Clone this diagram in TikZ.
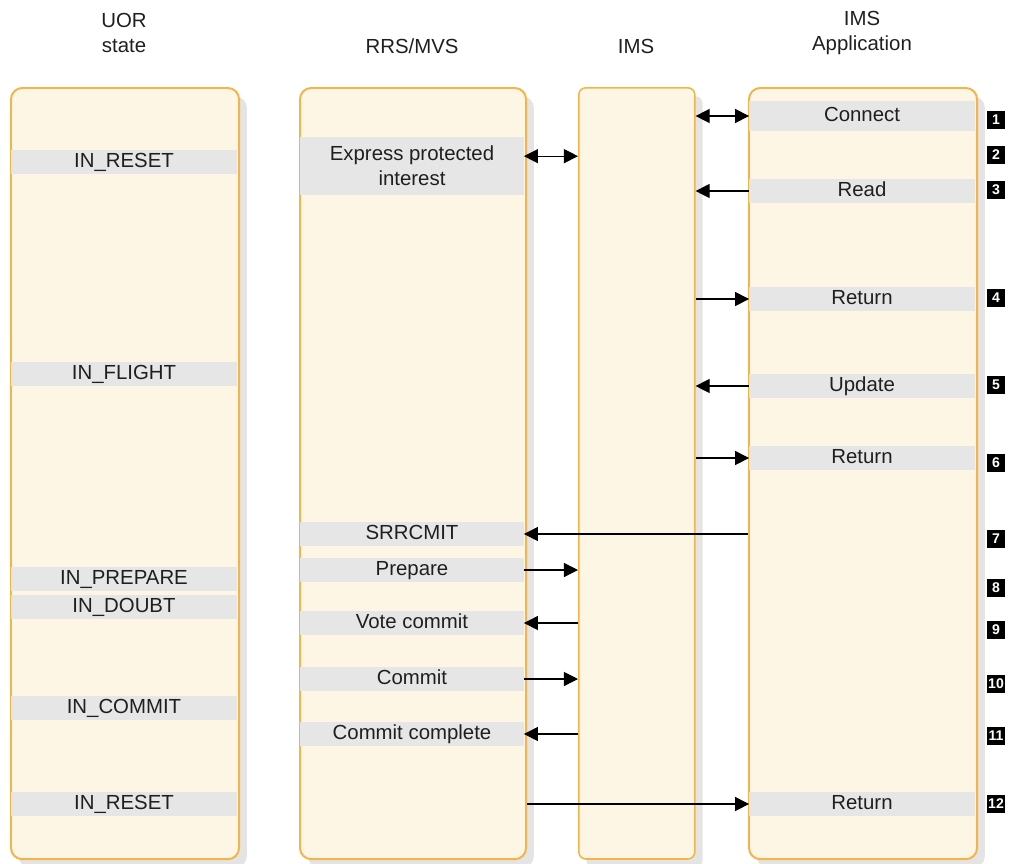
\documentclass[tikz,border=0pt]{standalone}
\usepackage{fontspec}
\setmainfont{Liberation Sans}
\usetikzlibrary{arrows.meta,positioning,shadows}
\definecolor{laneline}{HTML}{F4B44A}
\definecolor{lanefill}{HTML}{FDF6E4}
\definecolor{bandgray}{HTML}{E6E6E6}
\definecolor{shade}{HTML}{E4E4E4}
\tikzset{
  lane/.style={draw=laneline, fill=lanefill, line width=1.4pt, rounded corners=8pt,
    anchor=north west, inner sep=0pt, minimum height=19.275cm,
    drop shadow={shadow xshift=5.5pt, shadow yshift=-6pt, fill=shade, opacity=1}},
  bandbase/.style={fill=bandgray, inner sep=0pt, align=center},
  band/.style={bandbase, minimum height=0.6cm, text height=10.5pt, text depth=3pt},
  head/.style={align=center},
  badge/.style={fill=black, text=white, font=\bfseries\fontsize{10}{10}\selectfont,
    minimum size=12.5pt, inner sep=0.4pt},
  msg/.style={line width=0.8pt, -{Triangle[length=10pt,width=10pt]}},
  msgs/.style={line width=0.8pt, {Triangle[length=10pt,width=10pt]}-{Triangle[length=10pt,width=10pt]}}
}
\begin{document}
\begin{tikzpicture}[x=0.025cm,y=-0.025cm,font=\fontsize{14.5}{17.5}\selectfont,text=black!88]
\useasboundingbox (0,0) rectangle (1010,863);

% column headings
\node[head] (huor) at (124,33) {UOR\\state};
\node[head] (hrrs) at (412,46) {RRS/MVS};
\node[head] (hims) at (636,46) {IMS};
\node[head] (happ) at (862,33) {IMS\\Application};

% lanes
\node[lane, minimum width=5.7cm] (uor) at (10,87) {};
\node[lane, minimum width=5.65cm] (rrs) at (299,87) {};
\node[lane, minimum width=2.9cm, rounded corners=5pt, line width=1.1pt] (ims) at (578,87) {};
\node[lane, minimum width=5.7cm] (app) at (748,87) {};

% UOR states
\node[band, minimum width=5.63cm] (reset1) at (124,162) {IN\_RESET};
\node[band, minimum width=5.63cm] (flight) at (124,374) {IN\_FLIGHT};
\node[band, minimum width=5.63cm] (inprep) at (124,579) {IN\_PREPARE};
\node[band, minimum width=5.63cm] (doubt) at (124,607) {IN\_DOUBT};
\node[band, minimum width=5.63cm] (incommit) at (124,708) {IN\_COMMIT};
\node[band, minimum width=5.63cm] (reset2) at (124,804) {IN\_RESET};

% RRS/MVS
\node[bandbase, minimum width=5.58cm, minimum height=1.45cm] (express) at (412,166) {Express protected\\interest};
\node[band, minimum width=5.58cm] (srrcmit) at (412,534) {SRRCMIT};
\node[band, minimum width=5.58cm] (prep) at (412,570) {Prepare};
\node[band, minimum width=5.58cm] (vote) at (412,623) {Vote commit};
\node[band, minimum width=5.58cm] (commit) at (412,679) {Commit};
\node[band, minimum width=5.58cm] (complete) at (412,734) {Commit complete};

% IMS application
\node[band, minimum width=5.63cm, minimum height=0.75cm] (connect) at (862,116) {Connect};
\node[band, minimum width=5.63cm] (read) at (862,191) {Read};
\node[band, minimum width=5.63cm] (ret4) at (862,299) {Return};
\node[band, minimum width=5.63cm] (update) at (862,386) {Update};
\node[band, minimum width=5.63cm] (ret6) at (862,458) {Return};
\node[band, minimum width=5.63cm] (ret12) at (862,804) {Return};

% flows
\draw[msgs] (ims.east |- connect) -- (connect.west);
\draw[msgs] ([yshift=7pt]express.east) -- ([yshift=7pt]express.east -| ims.west);
\draw[msg] (read.west) -- (ims.east |- read);
\draw[msg] (ims.east |- ret4) -- (ret4.west);
\draw[msg] (update.west) -- (ims.east |- update);
\draw[msg] (ims.east |- ret6) -- (ret6.west);
\draw[msg] (app.west |- srrcmit) -- (srrcmit.east);
\draw[msg] (prep.east) -- (ims.west |- prep);
\draw[msg] (ims.west |- vote) -- (vote.east);
\draw[msg] (commit.east) -- (ims.west |- commit);
\draw[msg] (ims.west |- complete) -- (complete.east);
\draw[msg] (rrs.east |- ret12) -- (ret12.west);

% step numbers
\foreach \n/\y in {1/120,2/155,3/190,4/298,5/385,6/463,7/539,8/588,9/630,10/684,11/736,12/804}
  \node[badge] (b\n) at (996,\y) {\n};
\end{tikzpicture}
\end{document}
